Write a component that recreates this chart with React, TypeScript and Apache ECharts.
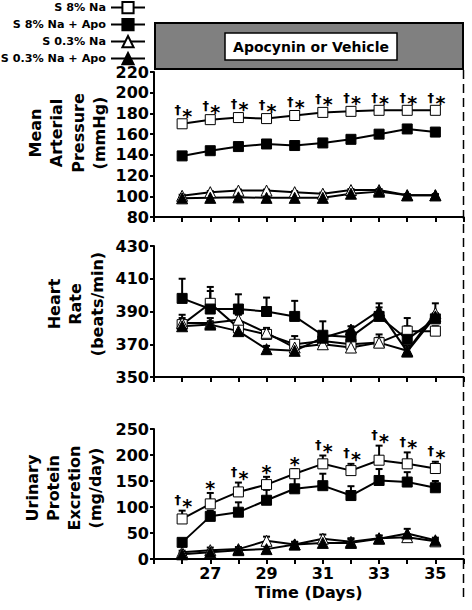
import React, { useEffect, useRef } from 'react';
import * as echarts from 'echarts';

const FONT = 'DejaVu Sans';

const days = [26, 27, 28, 29, 30, 31, 32, 33, 34, 35];
const seriesNames = ['S 8% Na', 'S 8% Na + Apo', 'S 0.3% Na', 'S 0.3% Na + Apo'];
const xTickLabels = [27, 29, 31, 33, 35];

// Mean arterial pressure (mmHg)
const mapS8 = [170, 174, 176, 175, 178, 181, 182, 183, 183, 183];
const mapS8Err = [3, 3, 3, 3, 3, 3, 3, 2, 2, 2];
const mapS8Apo = [139, 144, 148, 150.5, 149, 151.5, 155, 160, 165, 162];
const mapS8ApoErr = [1, 1, 1, 1, 1, 1, 1, 1, 1, 1];
const mapS03 = [100.5, 104, 105.5, 105.5, 104, 102.5, 106, 106, 101, 101];
const mapS03Err = [1, 1, 1, 1, 1, 1, 1, 1, 1, 1];
const mapS03Apo = [98, 98.5, 99, 98.5, 98.5, 98.5, 102.5, 104.5, 101, 101];
const mapS03ApoErr = [1, 1, 1, 1, 1, 1, 1, 1, 1, 1];
const mapMarks = ['†*', '†*', '†*', '†*', '†*', '†*', '†*', '†*', '†*', '†*'];

// Heart rate (beats/min)
const hrS8 = [382, 395, 380, 376, 370, 372, 370, 371, 378, 378];
const hrS8Err = [6, 10, 3, 3, 5, 3, 3, 5, 8, 3];
const hrS8Apo = [398, 391.5, 391.5, 390, 387, 375.5, 374.5, 387, 373, 385.5];
const hrS8ApoErr = [12, 11, 9, 8.5, 9.5, 8.5, 4, 8, 8, 3];
const hrS03 = [383, 383, 385, 377, 368, 370, 368, 371, 366, 389];
const hrS03Err = [3, 3, 3, 3, 3, 3, 3, 3, 3, 6];
const hrS03Apo = [381, 382, 378, 367, 366, 374, 379, 390.5, 365.5, 387];
const hrS03ApoErr = [2, 2, 2, 2, 2, 2, 2, 2, 2, 2];

// Urinary protein excretion (mg/day)
const upS8 = [77, 106, 129, 143, 164, 183, 170, 190, 183, 174];
const upS8Err = [16, 21, 18, 15, 9, 16, 13, 28, 22, 13];
const upS8Apo = [32, 82, 90, 113, 135, 141, 122, 151, 148, 137];
const upS8ApoErr = [0, 11, 19, 20, 23, 23, 18, 22, 19, 13];
const upS03 = [13, 17, 19, 35, 28, 39, 33, 40, 42, 34];
const upS03Err = [3, 5, 4, 8, 5, 8, 7, 5, 5, 4];
const upS03Apo = [9, 13, 17, 19, 28, 31, 31, 39, 49, 36];
const upS03ApoErr = [3, 4, 3, 5, 5, 5, 7, 6, 9, 5];
const upMarks = ['†*', '*', '†*', '*', '*', '†*', '†*', '†*', '†*', '†*'];

const symbols = ['rect', 'rect', 'triangle', 'triangle'];
const fills = ['#ffffff', '#000000', '#ffffff', '#000000'];
const sizes = [10, 10, 11, 11];
const drawOrder = [0, 2, 1, 3];

const panels = [
  { vals: [mapS8, mapS8Apo, mapS03, mapS03Apo], errs: [mapS8Err, mapS8ApoErr, mapS03Err, mapS03ApoErr], marks: mapMarks, min: 80, max: 220, interval: 20 },
  { vals: [hrS8, hrS8Apo, hrS03, hrS03Apo], errs: [hrS8Err, hrS8ApoErr, hrS03Err, hrS03ApoErr], marks: null, min: 350, max: 430, interval: 20 },
  { vals: [upS8, upS8Apo, upS03, upS03Apo], errs: [upS8Err, upS8ApoErr, upS03Err, upS03ApoErr], marks: upMarks, min: 0, max: 250, interval: 50 },
];

const gridBoxes = [
  { left: 154, top: 72, width: 309.5, height: 145 },
  { left: 154, top: 246, width: 309.5, height: 131 },
  { left: 154, top: 429, width: 309.5, height: 130 },
];

function buildOption() {
  const series: any[] = [];
  panels.forEach((p, gi) => {
    // error bars
    drawOrder.forEach((si) => {
      series.push({
        type: 'custom',
        xAxisIndex: gi,
        yAxisIndex: gi,
        z: 2,
        silent: true,
        encode: { x: 0, y: 1 },
        data: days.map((d, i) => [d, p.vals[si][i], p.errs[si][i]]),
        renderItem: (params: any, api: any) => {
          const x = api.value(0);
          const y = api.value(1);
          const e = api.value(2);
          if (!e) return null;
          const p0 = api.coord([x, y]);
          const p1 = api.coord([x, y + e]);
          return {
            type: 'group',
            children: [
              { type: 'line', shape: { x1: p0[0], y1: p0[1], x2: p1[0], y2: p1[1] }, style: { stroke: '#000', lineWidth: 2 } },
              { type: 'line', shape: { x1: p1[0] - 3.5, y1: p1[1], x2: p1[0] + 3.5, y2: p1[1] }, style: { stroke: '#000', lineWidth: 2 } },
            ],
          };
        },
      });
    });
    // lines
    drawOrder.forEach((si) => {
      series.push({
        type: 'line',
        name: seriesNames[si],
        xAxisIndex: gi,
        yAxisIndex: gi,
        z: 3,
        data: days.map((d, i) => [d, p.vals[si][i]]),
        symbol: symbols[si],
        symbolSize: sizes[si],
        showSymbol: true,
        lineStyle: { color: '#000', width: 2 },
        itemStyle: { color: fills[si], borderColor: '#000', borderWidth: 1 },
        emphasis: { disabled: true },
      });
    });
    // significance marks
    if (p.marks) {
      const marks = p.marks;
      series.push({
        type: 'custom',
        xAxisIndex: gi,
        yAxisIndex: gi,
        z: 4,
        silent: true,
        encode: { x: 0, y: 1 },
        data: days.map((d, i) => [d, p.vals[0][i] + p.errs[0][i]]),
        renderItem: (params: any, api: any) => {
          const m = marks[params.dataIndex];
          if (!m) return null;
          const pt = api.coord([api.value(0), api.value(1)]);
          const children: any[] = [];
          const starStyle = { text: '*', fontSize: 19, fontWeight: 'bold', fontFamily: FONT, fill: '#000', align: 'center', verticalAlign: 'middle' };
          if (m.indexOf('†') >= 0) {
            children.push({ type: 'text', x: pt[0] - 4.5, y: pt[1] - 11, style: { text: '†', fontSize: 13, fontWeight: 'bold', fontFamily: FONT, fill: '#000', align: 'center', verticalAlign: 'middle' } });
            children.push({ type: 'text', x: pt[0] + 5, y: pt[1] - 5, style: starStyle });
          } else {
            children.push({ type: 'text', x: pt[0], y: pt[1] - 5, style: starStyle });
          }
          return { type: 'group', children };
        },
      });
    }
  });

  const axisLabelStyle = { fontSize: 16, fontWeight: 'bold', fontFamily: FONT, color: '#000' };

  return {
    animation: false,
    grid: gridBoxes.map((g) => ({ ...g, containLabel: false })),
    legend: seriesNames.map((n, i) => ({
      data: [n],
      right: 326,
      top: [1, 18, 35, 52][i],
      orient: 'horizontal',
      align: 'right',
      itemWidth: 34,
      itemHeight: 14,
      padding: 0,
      itemGap: 0,
      selectedMode: false,
      textStyle: { fontSize: 11.2, fontWeight: 'bold', fontFamily: FONT, color: '#000' },
    })),
    xAxis: panels.map((p, gi) => ({
      type: 'value',
      gridIndex: gi,
      min: 25,
      max: 36,
      interval: 1,
      axisLine: { show: true, lineStyle: { color: '#000', width: 2 } },
      axisTick: { show: true, length: 5, lineStyle: { color: '#000', width: 2 } },
      axisLabel: {
        show: gi === 2,
        margin: 6,
        ...axisLabelStyle,
        formatter: (v: number) => (xTickLabels.indexOf(v) >= 0 ? String(v) : ''),
      },
      splitLine: { show: false },
      name: gi === 2 ? 'Time (Days)' : '',
      nameLocation: 'middle',
      nameGap: 25,
      nameTextStyle: { fontSize: 16, fontWeight: 'bold', fontFamily: FONT, color: '#000' },
    })),
    yAxis: panels.map((p, gi) => ({
      type: 'value',
      gridIndex: gi,
      min: p.min,
      max: p.max,
      interval: p.interval,
      axisLine: { show: true, lineStyle: { color: '#000', width: 2 } },
      axisTick: { show: true, length: 4, lineStyle: { color: '#000', width: 2 } },
      axisLabel: { margin: 5, ...axisLabelStyle },
      splitLine: { show: false },
    })),
    graphic: [
      { type: 'rect', shape: { x: 155, y: 23, width: 308, height: 46 }, style: { fill: '#808080', stroke: '#000', lineWidth: 2 }, z: 10 },
      { type: 'rect', shape: { x: 225, y: 33, width: 172, height: 27 }, style: { fill: '#fff', stroke: '#000', lineWidth: 1.5 }, z: 11 },
      { type: 'text', x: 311, y: 46.5, style: { text: 'Apocynin or Vehicle', fontSize: 14, fontWeight: 'bold', fontFamily: FONT, fill: '#000', align: 'center', verticalAlign: 'middle' }, z: 12 },
      { type: 'line', shape: { x1: 463.5, y1: 70, x2: 463.5, y2: 597 }, style: { stroke: '#000', lineWidth: 1.5, lineDash: [9, 5] }, z: 10 },
      { type: 'text', x: 67.5, y: 133, rotation: Math.PI / 2, style: { text: 'Mean\nArterial\nPressure\n(mmHg)', fontSize: 16, lineHeight: 21.5, fontWeight: 'bold', fontFamily: FONT, fill: '#000', align: 'center', verticalAlign: 'middle' } },
      { type: 'text', x: 75.5, y: 304, rotation: Math.PI / 2, style: { text: 'Heart\nRate\n(beats/min)', fontSize: 16, lineHeight: 21.5, fontWeight: 'bold', fontFamily: FONT, fill: '#000', align: 'center', verticalAlign: 'middle' } },
      { type: 'text', x: 63.5, y: 488, rotation: Math.PI / 2, style: { text: 'Urinary\nProtein\nExcretion\n(mg/day)', fontSize: 16, lineHeight: 21, fontWeight: 'bold', fontFamily: FONT, fill: '#000', align: 'center', verticalAlign: 'middle' } },
    ],
    series,
  };
}

export default function App() {
  const ref = useRef<HTMLDivElement>(null);
  useEffect(() => {
    if (!ref.current) return;
    const chart = echarts.init(ref.current, null, { renderer: 'svg' });
    chart.setOption(buildOption() as any);
    return () => chart.dispose();
  }, []);
  return <div ref={ref} style={{ position: 'fixed', left: 0, top: 0, width: 472, height: 610, background: '#fff' }} />;
}
